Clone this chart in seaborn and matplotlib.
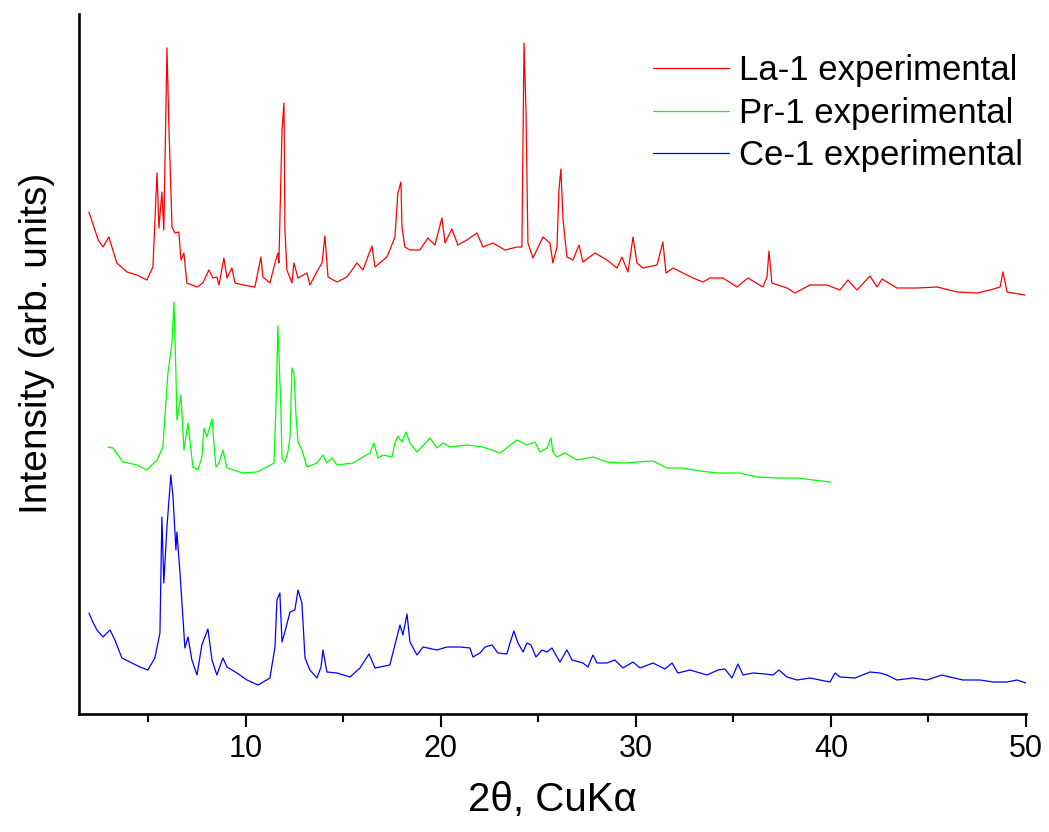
import matplotlib
matplotlib.use("Agg")
import matplotlib.pyplot as plt
import seaborn as sns
import pandas as pd
from matplotlib.ticker import MultipleLocator

# 2theta positions (deg) and intensities (arb. units)
la_x = [1.95, 2.17, 2.43, 2.67, 2.97, 3.38, 3.90, 4.41, 4.92, 5.23, 5.44, 5.54, 5.69, 5.79,
        5.95, 6.05, 6.21, 6.36, 6.56, 6.67, 6.82, 6.97, 7.49, 7.79, 8.10, 8.31, 8.51, 8.62,
        8.87, 9.03, 9.28, 9.44, 9.85, 10.46, 10.77, 10.87, 11.23, 11.49, 11.64, 11.69, 11.85,
        11.95, 12.00, 12.10, 12.36, 12.46, 12.67, 13.13, 13.28, 13.69, 13.90, 14.05, 14.21,
        14.67, 15.18, 15.69, 16.00, 16.46, 16.62, 17.23, 17.38, 17.64, 17.79, 17.95, 18.00,
        18.15, 18.41, 18.92, 19.33, 19.69, 20.05, 20.21, 20.56, 20.87, 21.33, 21.85, 22.15,
        22.67, 23.28, 23.90, 24.15, 24.26, 24.36, 24.46, 24.72, 25.23, 25.59, 25.74, 25.95,
        26.05, 26.15, 26.26, 26.46, 26.77, 27.08, 27.28, 27.90, 28.51, 29.03, 29.28, 29.59,
        29.85, 30.05, 30.36, 31.08, 31.38, 31.54, 31.90, 32.41, 32.92, 33.44, 33.79, 34.46,
        35.18, 35.74, 36.51, 36.72, 36.82, 36.97, 37.74, 38.15, 38.92, 39.79, 40.46, 40.87,
        41.33, 42.00, 42.36, 42.62, 43.38, 44.41, 45.44, 46.46, 47.49, 48.15, 48.67, 48.82,
        49.03, 49.95]
la_y = [501, 488, 473, 466, 476, 450, 441, 438, 433, 446, 540, 485, 521, 483,
        665, 586, 486, 480, 481, 453, 460, 430, 426, 430, 443, 435, 436, 428,
        455, 435, 445, 430, 428, 426, 456, 436, 430, 450, 460, 450, 583,
        610, 483, 443, 430, 450, 435, 440, 428, 443, 450, 477, 436,
        431, 436, 450, 443, 467, 446, 456, 463, 476, 520, 531, 486,
        466, 463, 463, 475, 468, 495, 470, 484, 468, 473, 480, 466,
        470, 463, 466, 466, 670, 603, 470, 455, 476, 470, 450, 466,
        523, 544, 493, 456, 453, 468, 451, 460, 453, 445, 456, 441,
        476, 450, 445, 448, 471, 440, 445, 440, 435, 431, 435, 435,
        426, 435, 426, 436, 462, 430, 425, 420, 428, 428, 423, 433,
        423, 437, 426, 434, 425, 425, 426, 421, 420, 423, 426, 441,
        421, 418]

pr_x = [2.92, 3.18, 3.69, 4.41, 4.92, 5.44, 5.74, 6.00, 6.21, 6.31, 6.41, 6.46, 6.67, 6.82,
        7.03, 7.28, 7.54, 7.74, 7.85, 8.00, 8.26, 8.46, 8.62, 8.82, 9.03, 9.85, 10.56, 11.08,
        11.44, 11.54, 11.64, 11.79, 11.85, 12.00, 12.15, 12.26, 12.36, 12.46, 12.56, 12.67,
        12.87, 13.13, 13.64, 13.95, 14.15, 14.41, 14.67, 15.49, 16.00, 16.36, 16.56, 16.77,
        17.03, 17.49, 17.64, 17.79, 18.00, 18.21, 18.41, 18.77, 19.44, 19.79, 20.10, 20.46,
        21.33, 22.15, 23.03, 23.90, 24.41, 24.82, 25.08, 25.44, 25.64, 25.74, 25.95, 26.36,
        26.97, 27.79, 28.51, 29.33, 30.05, 30.87, 31.59, 32.41, 33.28, 34.15, 35.33, 36.21,
        37.23, 38.26, 39.08, 40.00]
pr_y = [266, 265, 251, 248, 243, 253, 266, 340, 370, 411, 340, 293, 318, 263,
        290, 246, 243, 256, 285, 276, 294, 246, 250, 263, 245, 240, 241, 246,
        250, 306, 387, 306, 255, 251, 261, 276, 345, 340, 300, 271,
        263, 246, 250, 258, 250, 255, 248, 250, 256, 260, 270, 255,
        258, 256, 270, 277, 271, 281, 270, 261, 275, 265, 270, 266,
        268, 266, 260, 273, 268, 271, 261, 265, 275, 261, 256, 260,
        253, 256, 251, 250, 251, 252, 245, 245, 242, 240, 240, 236,
        235, 235, 233, 231]

ce_x = [1.95, 2.15, 2.36, 2.67, 3.03, 3.28, 3.64, 4.05, 4.56, 4.97, 5.33, 5.59, 5.69, 5.79,
        5.95, 6.15, 6.26, 6.41, 6.46, 6.62, 6.87, 7.03, 7.23, 7.49, 7.74, 8.05, 8.26, 8.51,
        8.82, 9.03, 9.54, 10.05, 10.62, 11.23, 11.49, 11.59, 11.74, 11.85, 12.05, 12.26,
        12.51, 12.67, 12.87, 13.03, 13.28, 13.64, 13.85, 13.95, 14.15, 14.67, 15.33, 15.85,
        16.31, 16.62, 17.38, 17.64, 17.90, 18.05, 18.26, 18.41, 18.77, 19.08, 19.79, 20.31,
        20.97, 21.49, 21.64, 22.00, 22.26, 22.62, 22.92, 23.38, 23.54, 23.74, 23.95, 24.21,
        24.41, 24.62, 24.87, 25.18, 25.44, 25.69, 26.10, 26.46, 26.72, 27.28, 27.54, 27.79,
        28.00, 28.51, 28.92, 29.33, 29.85, 30.21, 30.87, 31.49, 31.85, 32.15, 32.77, 33.64,
        34.21, 34.56, 34.92, 35.23, 35.49, 36.00, 36.62, 37.03, 37.33, 37.74, 38.26, 38.92,
        39.44, 39.95, 40.21, 40.46, 41.23, 42.00, 42.51, 42.87, 43.38, 44.21, 44.92, 45.69,
        46.10, 46.77, 47.64, 48.31, 49.03, 49.54, 50.00]
ce_y = [100, 91, 83, 76, 83, 73, 55, 51, 46, 43, 55, 80, 196, 130,
        186, 238, 216, 163, 181, 140, 65, 76, 53, 38, 68, 84, 53, 38,
        55, 46, 40, 33, 28, 35, 66, 113, 120, 71, 85, 101,
        103, 123, 110, 55, 43, 35, 46, 63, 41, 40, 36, 45,
        59, 45, 48, 68, 88, 78, 99, 71, 58, 66, 63, 66,
        66, 65, 56, 60, 66, 68, 60, 59, 70, 82, 70, 61,
        70, 68, 56, 63, 61, 65, 51, 63, 53, 50, 46, 58,
        50, 50, 53, 45, 51, 45, 50, 44, 50, 40, 43, 38,
        43, 44, 35, 49, 38, 40, 39, 38, 43, 36, 33, 35,
        33, 31, 40, 36, 35, 41, 40, 38, 33, 35, 33, 38,
        36, 33, 33, 31, 31, 33, 30]

labels = ["La-1 experimental", "Pr-1 experimental", "Ce-1 experimental"]
colors = ["#ff0000", "#00ff00", "#0000ff"]

df = pd.concat([
    pd.DataFrame({"two_theta": la_x, "intensity": la_y, "sample": labels[0]}),
    pd.DataFrame({"two_theta": pr_x, "intensity": pr_y, "sample": labels[1]}),
    pd.DataFrame({"two_theta": ce_x, "intensity": ce_y, "sample": labels[2]}),
], ignore_index=True)

sns.set_style("ticks")
plt.rcParams["font.family"] = ["Liberation Sans", "DejaVu Sans"]
plt.rcParams["text.color"] = "black"
plt.rcParams["axes.labelcolor"] = "black"
plt.rcParams["xtick.color"] = "black"

fig = plt.figure(figsize=(10.49, 8.32), dpi=100)
ax = fig.add_axes([79 / 1049, 1 - 714 / 832, 947 / 1049, 700 / 832])

sns.lineplot(data=df, x="two_theta", y="intensity", hue="sample", hue_order=labels,
             palette=colors, sort=False, estimator=None, linewidth=0.9, ax=ax)

ax.set_xlim(1.44, 50)
ax.set_ylim(-1, 699)
ax.xaxis.set_major_locator(MultipleLocator(10))
ax.xaxis.set_minor_locator(MultipleLocator(5))
ax.tick_params(axis="x", which="major", direction="out", length=9.5, width=1.5,
               labelsize=22, pad=5, colors="black")
ax.tick_params(axis="x", which="minor", direction="out", length=5.5, width=1.5)
ax.tick_params(axis="y", left=False, labelleft=False)
for side in ["top", "right"]:
    ax.spines[side].set_visible(False)
for side in ["left", "bottom"]:
    ax.spines[side].set_linewidth(1.9)
    ax.spines[side].set_color("black")

ax.set_xlabel("2θ, CuKα", fontsize=29, labelpad=12)
ax.set_ylabel("Intensity (arb. units)", fontsize=28)
ax.yaxis.set_label_coords(-0.025, 0.53)

leg = ax.legend(loc="upper left", bbox_to_anchor=(653 / 1049, 1 - 54 / 832),
                bbox_transform=fig.transFigure, frameon=False, fontsize=25,
                handlelength=2.2, handletextpad=0.29, labelspacing=0.28,
                borderpad=0, borderaxespad=0)
for t in leg.get_texts():
    t.set_color("black")

fig.savefig("out.png", dpi=100)
